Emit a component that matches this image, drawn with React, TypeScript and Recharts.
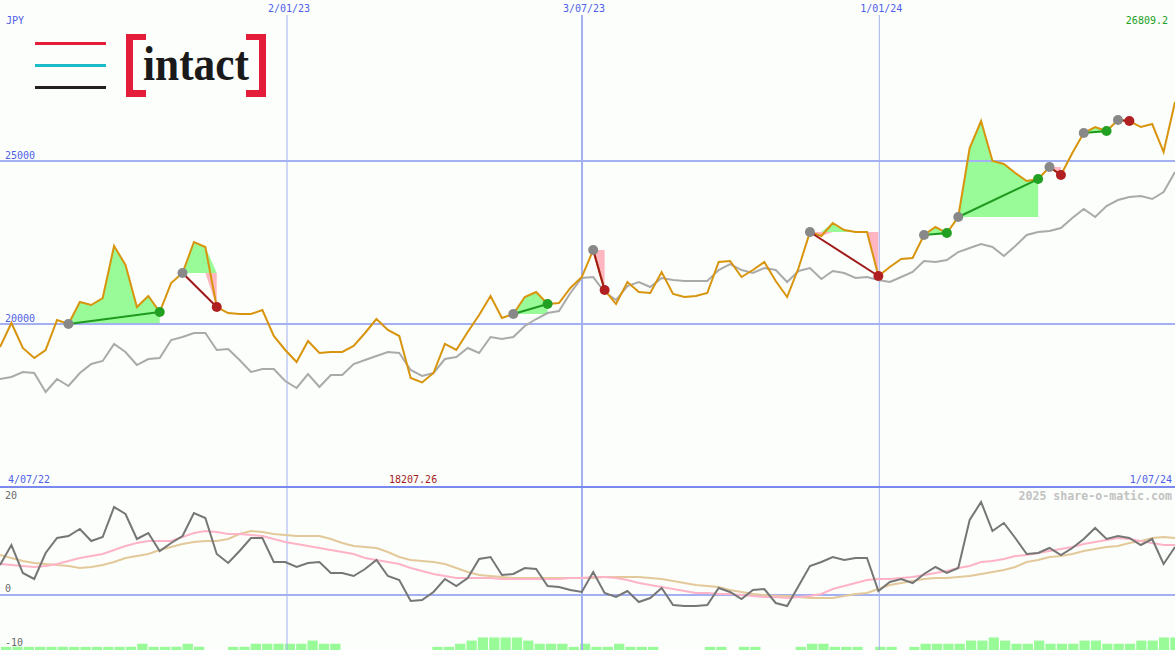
import React from 'react';
import {
  ComposedChart,
  Line,
  Area,
  Bar,
  XAxis,
  YAxis,
  ReferenceLine,
  ReferenceDot,
} from 'recharts';

// weekly closes, 4/07/22 .. 1/07/24
const price = [
  19295, 20031, 19264, 18957, 19203, 20123, 20000, 20675, 20583, 20797,
  22392, 21810, 20521, 20859, 20368, 21257, 21564, 22515, 22362, 20521,
  20337, 20307, 20307, 20429, 19632, 19203, 18835, 19479, 19111, 19141,
  19141, 19325, 19724, 20153, 19816, 19632, 18344, 18207.26, 18497, 19387,
  19203, 19755, 20276, 20859, 20184, 20307, 20828, 20981, 20613, 20644,
  21104, 21441, 22270, 21043, 20613, 21288, 20981, 20951, 21595, 20920,
  20828, 20859, 20951, 21902, 21932, 21441, 21656, 21902, 21319, 20828,
  21718, 22822, 22699, 23098, 22883, 22822, 22822, 21472, 21748, 21994,
  22024, 22730, 22975, 22791, 23282, 25398, 26226, 24999, 24907, 24631,
  24386, 24447, 24815, 24570, 25245, 25858, 26042, 25919, 26257, 26226,
  26042, 26134, 25275, 26809.2,
];

// grey comparison line
const trend = [
  18313, 18374, 18528, 18497, 17914, 18313, 18098, 18497, 18773, 18865,
  19387, 19141, 18742, 18926, 18957, 19509, 19601, 19724, 19724, 19203,
  19233, 18896, 18528, 18620, 18620, 18252, 18037, 18466, 18068, 18436,
  18436, 18773, 18896, 19019, 19141, 19111, 18589, 18405, 18497, 18926,
  18988, 19264, 19111, 19601, 19540, 19601, 19939, 20153, 20337, 20399,
  20951, 21411, 21441, 20981, 20736, 21165, 21288, 21135, 21411, 21349,
  21319, 21319, 21319, 21656, 21840, 21656, 21564, 21718, 21656, 21288,
  21626, 21718, 21380, 21626, 21564, 21411, 21441, 21349, 21288, 21441,
  21595, 21932, 21902, 21963, 22208, 22331, 22454, 22362, 22086, 22392,
  22730, 22822, 22852, 22944, 23251, 23527, 23282, 23619, 23803, 23895,
  23926, 23834, 24048, 24662,
];

// lower panel oscillator + its two averages
const momentum = [
  6.0, 10.0, 4.4, 3.2, 8.4, 11.4, 11.8, 13.2, 10.8, 11.6,
  17.6, 16.2, 11.2, 12.4, 8.8, 10.4, 11.8, 16.4, 15.4, 8.2,
  6.4, 8.8, 11.4, 11.4, 6.6, 6.6, 5.6, 6.4, 6.6, 4.4,
  4.4, 3.8, 5.2, 7.0, 3.8, 3.0, -1.2, -1.0, 0.6, 3.2,
  1.8, 3.4, 7.2, 7.6, 4.0, 4.2, 5.4, 5.2, 1.8, 1.6,
  1.0, 0.6, 4.6, 0.4, -0.4, 0.8, -1.4, -0.6, 1.4, -2.0,
  -2.2, -2.2, -2.0, 1.4, 0.6, -0.8, 1.0, 1.2, -1.6, -2.2,
  1.8, 5.8, 6.6, 7.6, 7.0, 7.4, 7.4, 0.8, 2.6, 3.2,
  2.4, 4.2, 5.6, 4.4, 5.4, 15.0, 18.6, 12.8, 14.4, 11.4,
  8.2, 8.4, 9.4, 8.0, 9.4, 11.2, 13.4, 11.2, 11.8, 11.4,
  10.0, 11.2, 6.2, 9.6,
];

const fastAvg = [
  6.2, 6.0, 5.8, 5.6, 5.8, 6.2, 6.8, 7.4, 7.8, 8.2,
  9.0, 9.8, 10.4, 10.8, 10.8, 10.8, 11.6, 12.4, 12.8, 12.6,
  12.2, 12.2, 12.0, 11.8, 11.2, 10.6, 10.2, 9.8, 9.4, 9.0,
  8.6, 8.2, 7.4, 7.0, 6.6, 6.2, 5.4, 4.8, 4.2, 3.8,
  3.4, 3.4, 3.4, 3.4, 3.2, 3.2, 3.2, 3.2, 3.2, 3.2,
  3.4, 3.4, 3.6, 3.6, 3.4, 3.0, 2.4, 2.0, 1.6, 1.2,
  0.8, 0.4, 0.4, 0.2, 0.2, 0.0, -0.2, -0.4, -0.4, -0.6,
  -0.4, -0.2, 0.2, 1.2, 1.8, 2.4, 3.0, 3.2, 3.2, 3.4,
  3.6, 4.0, 4.4, 4.8, 5.4, 5.8, 6.6, 6.8, 7.2, 7.8,
  8.0, 8.4, 8.8, 9.2, 9.6, 10.2, 10.6, 11.0, 11.4, 11.2,
  10.8, 10.4, 10.0, 10.0,
];

const slowAvg = [
  8.0, 7.4, 6.8, 6.4, 6.2, 6.0, 5.8, 5.4, 5.6, 6.0,
  6.6, 7.4, 7.8, 8.2, 9.0, 9.6, 10.2, 10.6, 10.8, 10.8,
  11.2, 12.2, 12.8, 12.6, 12.2, 12.0, 11.8, 11.8, 11.8, 11.2,
  10.4, 9.8, 9.6, 9.4, 8.6, 7.6, 7.0, 6.8, 6.6, 6.2,
  5.4, 4.6, 4.0, 3.8, 3.6, 3.4, 3.4, 3.4, 3.4, 3.4,
  3.4, 3.4, 3.4, 3.6, 3.6, 3.6, 3.6, 3.4, 3.2, 2.8,
  2.4, 2.0, 1.8, 1.6, 1.0, 0.6, 0.2, 0.0, -0.2, -0.2,
  -0.4, -0.6, -0.6, -0.6, -0.2, 0.2, 0.4, 1.2, 2.0, 2.4,
  2.8, 3.2, 3.4, 3.4, 3.6, 3.8, 4.2, 4.6, 5.0, 5.6,
  6.6, 7.0, 7.6, 7.8, 8.2, 8.8, 9.2, 9.6, 9.8, 10.4,
  10.8, 11.4, 11.6, 11.4,
];

// small green histogram along the bottom edge
const volume = [
  1, 1, 1, 1, 1, 1, 1, 1, 1, 1,
  1, 1, 2, 1, 1, 1, 2, 1, 0, 0,
  1, 1, 2, 2, 2, 2, 2, 3, 2, 2,
  0, 0, 0, 0, 0, 0, 0, 0, 1, 1,
  2, 3, 4, 4, 4, 4, 3, 2, 2, 2,
  1, 2, 1, 1, 2, 1, 1, 1, 0, 0,
  0, 0, 1, 1, 0, 1, 1, 0, 0, 0,
  1, 2, 2, 1, 1, 1, 0, 1, 1, 0,
  1, 2, 2, 2, 2, 3, 3, 4, 3, 2,
  2, 3, 2, 2, 2, 3, 3, 2, 2, 2,
  3, 3, 4, 4,
];

// trade signals: index of entry and exit week
const trades = [
  { entry: 6, exit: 14 },
  { entry: 16, exit: 19 },
  { entry: 45, exit: 48 },
  { entry: 52, exit: 53 },
  { entry: 71, exit: 77 },
  { entry: 81, exit: 83 },
  { entry: 84, exit: 91 },
  { entry: 92, exit: 93 },
  { entry: 95, exit: 97 },
  { entry: 98, exit: 99 },
];

const dateMarks = [
  { label: '2/01/23', at: 25.16 },
  { label: '3/07/23', at: 51.02 },
  { label: '1/01/24', at: 77.08 },
];
const priceTicks = [25000, 20000];
const oscTicks = [20, 0, -10];
const currency = 'JPY';
const firstDate = '4/07/22';
const lastDate = '1/07/24';

const LAST = price.length - 1;
const maxPrice = Math.max(...price);
const minPrice = Math.min(...price);

const rows = price.map((p, i) => {
  const row: any = {
    i,
    price: p,
    trend: trend[i],
    mom: momentum[i],
    fast: fastAvg[i],
    slow: slowAvg[i],
    vol: volume[i],
  };
  trades.forEach((t, k) => {
    const base = price[t.entry];
    const inside = i >= t.entry && i <= t.exit;
    row[`up${k}`] = inside ? [base, Math.max(p, base)] : null;
    row[`dn${k}`] = inside ? [Math.min(p, base), base] : null;
  });
  return row;
});

const W = 1175;
const TOP_H = 487;
const BOT_H = 163;
const BG = '#fbfefb';
const GRID = '#a3b0f1';
const BLUE = '#4f5fe8';
const MONO = '"DejaVu Sans Mono", monospace';
const noMargin = { top: 0, right: 0, bottom: 0, left: 0 };

const dateLabel = (text: string) => (props: any) => {
  const x = props.viewBox.x;
  return (
    <g>
      <rect x={x - 24} y={0} width={50} height={15} fill={BG} />
      <text x={x + 2} y={12} textAnchor="middle" fontFamily={MONO} fontSize={10} fill={BLUE}>
        {text}
      </text>
    </g>
  );
};

const priceLabel = (v: number) => (props: any) => (
  <text x={5} y={props.viewBox.y - 2} fontFamily={MONO} fontSize={10} fill={BLUE}>
    {v}
  </text>
);

const oscLabel = (v: number) => (props: any) => {
  const dy = v > 0 ? 4 : v === 0 ? -3 : 1;
  return (
    <text x={5} y={props.viewBox.y + dy} fontFamily={MONO} fontSize={10} fill="#6a6a6a">
      {v}
    </text>
  );
};

export default function App() {
  return (
    <div
      style={{
        position: 'absolute',
        left: 0,
        top: 0,
        width: W,
        height: 650,
        background: BG,
        overflow: 'hidden',
      }}
    >
      <div style={{ position: 'absolute', left: 0, top: 0 }}>
        <ComposedChart width={W} height={TOP_H} data={rows} margin={noMargin}>
          <XAxis dataKey="i" type="number" domain={[0, LAST]} hide />
          <YAxis type="number" domain={[15000, 29939]} hide />
          {trades.map((t, k) => (
            <Area
              key={`up${k}`}
              type="linear"
              dataKey={`up${k}`}
              stroke="none"
              fill="#98fb98"
              fillOpacity={1}
              dot={false}
              activeDot={false}
              isAnimationActive={false}
            />
          ))}
          {trades.map((t, k) => (
            <Area
              key={`dn${k}`}
              type="linear"
              dataKey={`dn${k}`}
              stroke="none"
              fill="#ffb6c1"
              fillOpacity={1}
              dot={false}
              activeDot={false}
              isAnimationActive={false}
            />
          ))}
          {priceTicks.map((v) => (
            <ReferenceLine key={v} y={v} stroke={GRID} strokeWidth={2} label={priceLabel(v)} />
          ))}
          {dateMarks.map((d, k) => (
            <ReferenceLine
              key={d.label}
              x={d.at}
              stroke={GRID}
              strokeWidth={k === 1 ? 2 : 1}
              label={dateLabel(d.label)}
            />
          ))}
          <Line
            type="linear"
            dataKey="trend"
            stroke="#aaaaaa"
            strokeWidth={2}
            dot={false}
            activeDot={false}
            isAnimationActive={false}
          />
          <Line
            type="linear"
            dataKey="price"
            stroke="#d8940c"
            strokeWidth={2}
            dot={false}
            activeDot={false}
            isAnimationActive={false}
          />
          {trades.map((t) => {
            const win = price[t.exit] > price[t.entry];
            return (
              <ReferenceLine
                key={`seg${t.entry}`}
                segment={[
                  { x: t.entry, y: price[t.entry] },
                  { x: t.exit, y: price[t.exit] },
                ]}
                stroke={win ? '#1f9a1f' : '#a01a1a'}
                strokeWidth={2}
              />
            );
          })}
          {trades.map((t) => (
            <ReferenceDot
              key={`in${t.entry}`}
              x={t.entry}
              y={price[t.entry]}
              r={5}
              fill="#888888"
              stroke="none"
            />
          ))}
          {trades.map((t) => {
            const win = price[t.exit] > price[t.entry];
            return (
              <ReferenceDot
                key={`out${t.exit}`}
                x={t.exit}
                y={price[t.exit]}
                r={5}
                fill={win ? '#22a022' : '#b02020'}
                stroke="none"
              />
            );
          })}
        </ComposedChart>
      </div>

      <div style={{ position: 'absolute', left: 0, top: TOP_H }}>
        <ComposedChart
          width={W}
          height={BOT_H}
          data={rows}
          margin={noMargin}
          barCategoryGap={0}
          barGap={0}
        >
          <XAxis dataKey="i" type="number" domain={[0, LAST]} hide />
          <XAxis xAxisId="vol" dataKey="i" type="number" domain={[-0.5, LAST - 0.5]} hide />
          <YAxis type="number" domain={[-11, 21.6]} hide />
          <YAxis yAxisId="vol" type="number" domain={[0, 52]} hide />
          <Bar
            xAxisId="vol"
            yAxisId="vol"
            dataKey="vol"
            fill="#98fb98"
            barSize={12}
            isAnimationActive={false}
          />
          {dateMarks.map((d, k) => (
            <ReferenceLine key={d.label} x={d.at} stroke={GRID} strokeWidth={k === 1 ? 2 : 1} />
          ))}
          {oscTicks.map((v) => (
            <ReferenceLine
              key={v}
              y={v}
              stroke={v === 0 ? GRID : 'none'}
              strokeWidth={2}
              label={oscLabel(v)}
            />
          ))}
          <Line
            type="linear"
            dataKey="slow"
            stroke="#e3c99a"
            strokeWidth={2}
            dot={false}
            activeDot={false}
            isAnimationActive={false}
          />
          <Line
            type="linear"
            dataKey="fast"
            stroke="#ffb3c6"
            strokeWidth={2}
            dot={false}
            activeDot={false}
            isAnimationActive={false}
          />
          <Line
            type="linear"
            dataKey="mom"
            stroke="#767676"
            strokeWidth={2}
            dot={false}
            activeDot={false}
            isAnimationActive={false}
          />
        </ComposedChart>
      </div>

      <div style={{ position: 'absolute', left: 0, top: 486, width: W, height: 2, background: '#7a89ef' }} />

      <svg
        width={W}
        height={650}
        style={{ position: 'absolute', left: 0, top: 0, pointerEvents: 'none' }}
      >
        {/* logo */}
        <rect x={35} y={42} width={71} height={3} fill="#e41d3b" />
        <rect x={35} y={64} width={71} height={3} fill="#1bbcc9" />
        <rect x={35} y={86} width={71} height={3} fill="#231f20" />
        <rect x={126} y={34} width={7} height={63} fill="#e41d3b" />
        <rect x={126} y={34} width={20} height={6} fill="#e41d3b" />
        <rect x={126} y={90} width={20} height={7} fill="#e41d3b" />
        <rect x={259} y={34} width={7} height={63} fill="#e41d3b" />
        <rect x={246} y={34} width={20} height={6} fill="#e41d3b" />
        <rect x={246} y={90} width={20} height={7} fill="#e41d3b" />
        <text
          x={143}
          y={80}
          fontFamily='"Liberation Serif", serif'
          fontSize={48}
          fontWeight="bold"
          fill="#1a1a1a"
          textLength={106}
          lengthAdjust="spacingAndGlyphs"
        >
          intact
        </text>

        <text x={6} y={24} fontFamily={MONO} fontSize={10} fill={BLUE}>
          {currency}
        </text>
        <text x={1168} y={24} textAnchor="end" fontFamily={MONO} fontSize={10} fill="#22a022">
          {maxPrice}
        </text>
        <text x={8} y={483} fontFamily={MONO} fontSize={10} fill={BLUE}>
          {firstDate}
        </text>
        <text x={389} y={483} fontFamily={MONO} fontSize={10} fill="#a51d1d">
          {minPrice}
        </text>
        <text x={1172} y={483} textAnchor="end" fontFamily={MONO} fontSize={10} fill={BLUE}>
          {lastDate}
        </text>
        <text
          x={1172}
          y={500}
          textAnchor="end"
          fontFamily={MONO}
          fontSize={11.6}
          fontWeight="bold"
          fill="#c2c2c2"
        >
          2025 share-o-matic.com
        </text>
      </svg>
    </div>
  );
}
